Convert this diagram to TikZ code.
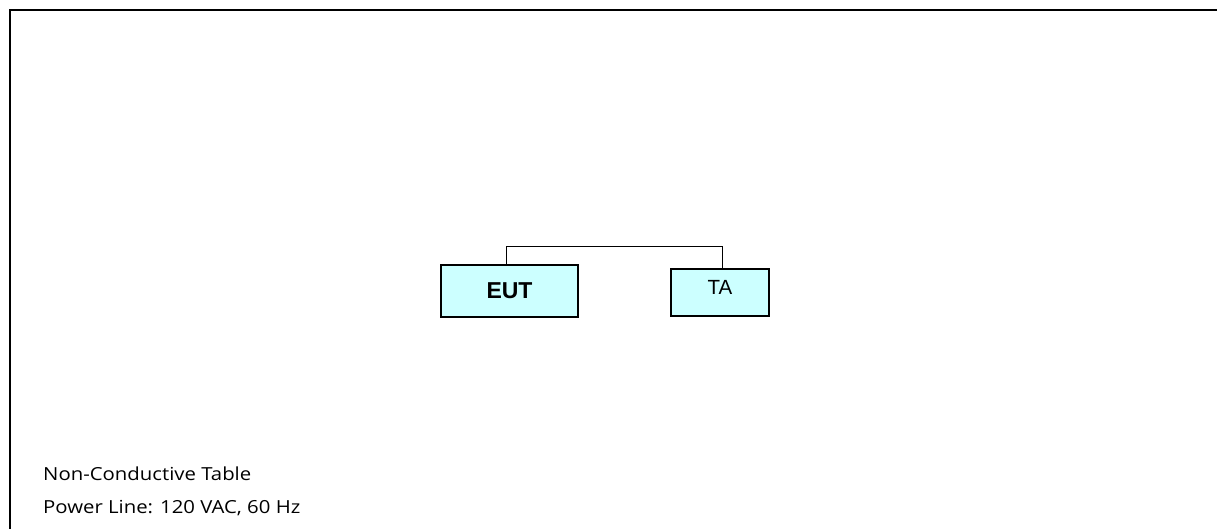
\documentclass[tikz,border=0pt]{standalone}
\usepackage{fontspec}
\setmainfont{Liberation Sans}
\newfontfamily\notefont[FakeStretch=1.13]{Open Sans}
\definecolor{boxfill}{HTML}{CCFFFF}
\tikzset{
  devbox/.style={draw=black, line width=1.3pt, fill=boxfill, inner sep=0pt},
  note/.style={anchor=base west, inner sep=0pt, font=\notefont\fontsize{18}{21}\selectfont},
  wire/.style={draw=black, line width=1pt}
}
\begin{document}
\begin{tikzpicture}[x=1pt, y=-1pt]
\useasboundingbox (0,0) rectangle (1217,529);
\fill[white] (0,0) rectangle (1217,529);
\draw[line width=2pt] (1217,10) -- (10,10) -- (10,529);
\node[devbox, minimum width=137pt, minimum height=52pt, font=\bfseries\fontsize{23}{26}\selectfont] (EUT) at (509.5,291) {EUT};
\node[devbox, minimum width=98pt, minimum height=47pt] (TA) at (720,292.5) {};
\node[inner sep=0pt, font=\fontsize{20.5}{24}\selectfont] (TAtext) at (720,287) {TA};
\draw[wire] ([xshift=-3.5pt]EUT.north) -- ([xshift=-3.5pt]EUT.north |- 0,247) -| ([xshift=2pt]TA.north);
\node[note] (n1) at (43,480.5) {Non-Conductive Table};
\node[note] (n2) at (43,513.5) {Power Line: 120 VAC, 60 Hz};
\end{tikzpicture}
\end{document}
